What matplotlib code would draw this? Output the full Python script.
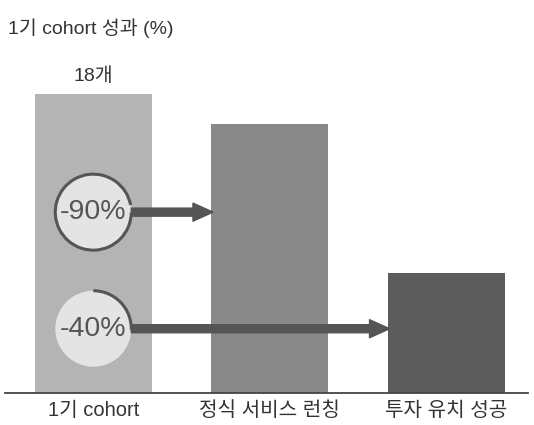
import matplotlib.pyplot as plt
from matplotlib.patches import Ellipse, Arc

plt.rcParams['font.family'] = ['Liberation Sans', 'Noto Sans CJK KR', 'DejaVu Sans']

# data
categories = ['1기 cohort', '정식 서비스 런칭', '투자 유치 성공']
values = [100, 90, 40]
bar_colors = ['#b4b4b4', '#898989', '#5c5c5c']
top_label = '18개'
ring_labels = ['-90%', '-40%']
ring_targets = [1, 2]

W, H = 534, 425
fig = plt.figure(figsize=(W / 100, H / 100), dpi=100)
ax = fig.add_axes([5 / W, 32 / H, 523 / W, 333 / H])

x = list(range(len(categories)))
width = 0.663
ax.bar(x, values, width=width, color=bar_colors, zorder=1)
ax.set_xlim(-0.5, 2.462)
ax.set_ylim(0, 111.4)

for s in ['top', 'right', 'left']:
    ax.spines[s].set_visible(False)
ax.spines['bottom'].set_color('#444444')
ax.spines['bottom'].set_linewidth(1.3)
ax.set_yticks([])
ax.set_xticks(x)
ax.set_xticklabels(categories, fontsize=14.5, color='#333333')
ax.tick_params(axis='x', length=0, pad=6)

ax.text(0, values[0] + 3, top_label, ha='center', va='bottom', fontsize=14, color='#333333')
fig.text(8 / W, 1 - 28 / H, '1기 cohort 성과 (%)', ha='left', va='center', fontsize=14, color='#333333')

# pixel -> data scale
px_x = 2.962 / 523
px_y = 111.4 / 333
r = 38
ring_y = [60.5, 21.5]
arcs = [(85, 325), (-55, 90)]
for lab, yy, tgt, (t1, t2) in zip(ring_labels, ring_y, ring_targets, arcs):
    ax.add_patch(Ellipse((0, yy), 2 * r * px_x, 2 * r * px_y, facecolor='#e4e4e4',
                         edgecolor='none', zorder=3))
    ax.add_patch(Arc((0, yy), 2 * r * px_x, 2 * r * px_y, theta1=t1, theta2=t2,
                     color='#555555', lw=2.2, zorder=4))
    ax.text(0, yy, lab, ha='center', va='center', fontsize=20.5, color='#555555', zorder=5)
    ax.annotate('', xy=(tgt - width / 2 + 0.01, yy), xytext=(r * px_x, yy),
                arrowprops=dict(arrowstyle='simple,head_width=1.3,head_length=1.45,tail_width=0.58',
                                mutation_scale=10, color='#555555', shrinkA=0, shrinkB=0),
                zorder=4)

fig.savefig('out.png', dpi=100)
